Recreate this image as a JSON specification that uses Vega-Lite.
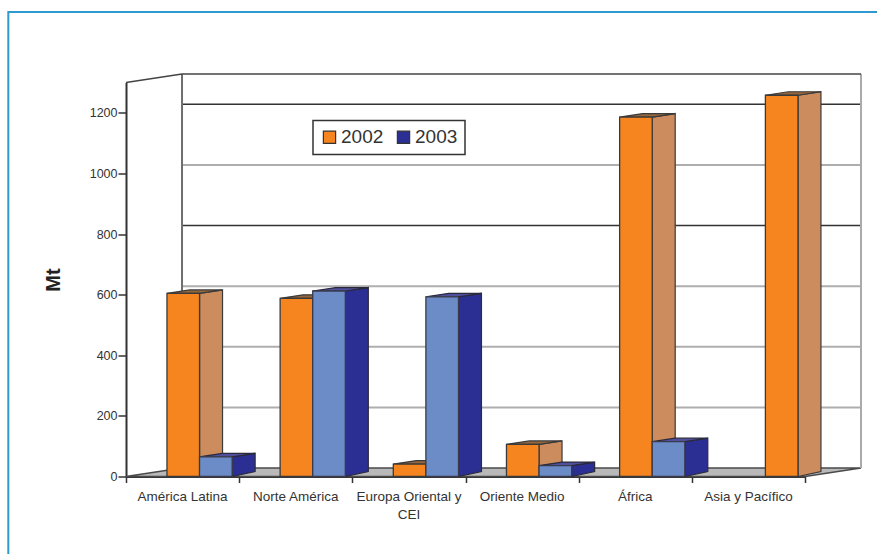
{
  "$schema": "https://vega.github.io/schema/vega-lite/v6.json",
  "width": 679,
  "height": 394,
  "autosize": "none",
  "padding": {"left": 126, "top": 82.5, "right": 72, "bottom": 77.5},
  "background": "white",
  "config": {"view": {"stroke": null}, "font": "Liberation Sans", "legend": {"strokeWidth": 1.5}},
  "resolve": {"axis": {"x": "independent", "y": "independent"}},
  "datasets": {
    "suelo": [
      {"alto": 0, "desde": 0, "hasta": 6},
      {"alto": 28, "desde": 0.495, "hasta": 6.495}
    ],
    "rejilla": [{"mt": 200}, {"mt": 400}, {"mt": 600}, {"mt": 800}, {"mt": 1000}, {"mt": 1200}],
    "regiones": [
      {"region": "América Latina"},
      {"region": "Norte América"},
      {"region": "Europa Oriental y CEI"},
      {"region": "Oriente Medio"},
      {"region": "África"},
      {"region": "Asia y Pacífico"}
    ]
  },
  "data": {
    "values": [
      {"region": "América Latina", "anio": "2002", "mt": 604},
      {"region": "América Latina", "anio": "2003", "mt": 65},
      {"region": "Norte América", "anio": "2002", "mt": 588},
      {"region": "Norte América", "anio": "2003", "mt": 612},
      {"region": "Europa Oriental y CEI", "anio": "2002", "mt": 41},
      {"region": "Europa Oriental y CEI", "anio": "2003", "mt": 593},
      {"region": "Oriente Medio", "anio": "2002", "mt": 106},
      {"region": "Oriente Medio", "anio": "2003", "mt": 36},
      {"region": "África", "anio": "2002", "mt": 1186},
      {"region": "África", "anio": "2003", "mt": 115},
      {"region": "Asia y Pacífico", "anio": "2002", "mt": 1258}
    ]
  },
  "transform": [
    {"calculate": "indexof(['América Latina','Norte América','Europa Oriental y CEI','Oriente Medio','África','Asia y Pacífico'], datum.region)", "as": "grupo"},
    {"calculate": "datum.region === 'Asia y Pacífico' || datum.anio === '2003' ? 1 : 0", "as": "hueco"},
    {"calculate": "datum.grupo + 0.362 + datum.hueco * 0.288", "as": "izq"},
    {"calculate": "datum.izq + 0.288", "as": "der"}
  ],
  "layer": [
    {
      "description": "Marco azul de la figura",
      "data": {"values": [{}]},
      "mark": {"type": "rect", "fill": null, "stroke": "#2f9ad0", "strokeWidth": 2},
      "encoding": {
        "x": {"datum": -1.04, "type": "quantitative", "scale": {"domain": [0, 6], "nice": false, "zero": false}, "axis": null},
        "x2": {"datum": 7},
        "y": {"datum": 1533, "type": "quantitative", "scale": {"domain": [0, 1300], "nice": false}, "axis": null},
        "y2": {"datum": -500}
      }
    },
    {
      "description": "Suelo del grafico en perspectiva",
      "data": {"name": "suelo"},
      "mark": {"type": "area", "orient": "horizontal", "fill": "#b9b9b9", "stroke": "#4a4a4a", "strokeWidth": 1.6},
      "encoding": {
        "y": {"field": "alto", "type": "quantitative", "stack": null, "scale": {"domain": [0, 1300], "nice": false}, "axis": null},
        "x": {"field": "desde", "type": "quantitative", "stack": null, "scale": {"domain": [0, 6], "nice": false, "zero": false}, "axis": null},
        "x2": {"field": "hasta"}
      }
    },
    {
      "description": "Lineas de rejilla de la pared del fondo",
      "data": {"name": "rejilla"},
      "transform": [{"calculate": "datum.mt + 28", "as": "alto"}],
      "mark": {"type": "rule"},
      "encoding": {
        "y": {"field": "alto", "type": "quantitative", "scale": {"domain": [0, 1300], "nice": false}, "axis": null},
        "x": {"datum": 0.495, "type": "quantitative", "scale": {"domain": [0, 6], "nice": false, "zero": false}, "axis": null},
        "x2": {"datum": 6.495},
        "color": {"condition": {"test": "datum.mt === 1200 || datum.mt === 800", "value": "#333333"}, "value": "#aeaeae"},
        "strokeWidth": {"condition": {"test": "datum.mt === 1200 || datum.mt === 800", "value": 1.5}, "value": 2}
      }
    },
    {
      "description": "Pared derecha",
      "data": {"values": [{}]},
      "mark": {"type": "rule", "stroke": "#aaaaaa", "strokeWidth": 2},
      "encoding": {
        "x": {"datum": 6.495, "type": "quantitative", "scale": {"domain": [0, 6], "nice": false, "zero": false}, "axis": null},
        "y": {"datum": 28, "type": "quantitative", "scale": {"domain": [0, 1300], "nice": false}, "axis": null},
        "y2": {"datum": 1328}
      }
    },
    {
      "description": "Arista vertical izquierda de la pared del fondo",
      "data": {"values": [{}]},
      "mark": {"type": "rule", "stroke": "#6e6e6e", "strokeWidth": 2},
      "encoding": {
        "x": {"datum": 0.495, "type": "quantitative", "scale": {"domain": [0, 6], "nice": false, "zero": false}, "axis": null},
        "y": {"datum": 28, "type": "quantitative", "scale": {"domain": [0, 1300], "nice": false}, "axis": null},
        "y2": {"datum": 1328}
      }
    },
    {
      "description": "Arista superior de la pared del fondo",
      "data": {"values": [{}]},
      "mark": {"type": "rule", "stroke": "#444444", "strokeWidth": 1.5},
      "encoding": {
        "x": {"datum": 0.495, "type": "quantitative", "scale": {"domain": [0, 6], "nice": false, "zero": false}, "axis": null},
        "x2": {"datum": 6.495},
        "y": {"datum": 1328, "type": "quantitative", "scale": {"domain": [0, 1300], "nice": false}, "axis": null}
      }
    },
    {
      "description": "Diagonal superior de la pared izquierda",
      "data": {"values": [{}]},
      "mark": {"type": "rule", "stroke": "#444444", "strokeWidth": 1.5},
      "encoding": {
        "x": {"datum": 0, "type": "quantitative", "scale": {"domain": [0, 6], "nice": false, "zero": false}, "axis": null},
        "x2": {"datum": 0.495},
        "y": {"datum": 1300, "type": "quantitative", "scale": {"domain": [0, 1300], "nice": false}, "axis": null},
        "y2": {"datum": 1328}
      }
    },
    {
      "description": "Cara lateral 2002",
      "transform": [
        {"filter": "datum.anio === '2002'"},
        {"calculate": "[0, 1]", "as": "t"},
        {"flatten": ["t"]},
        {"calculate": "datum.der + datum.t * 0.203", "as": "fx"},
        {"calculate": "datum.mt + datum.t * 11.5", "as": "fy"},
        {"calculate": "datum.t * 16.5", "as": "fy2"}
      ],
      "mark": {"type": "area", "orient": "vertical", "fill": "#cd8c5d", "stroke": "#3a3a3a", "strokeWidth": 1.2},
      "encoding": {
        "x": {"field": "fx", "type": "quantitative", "scale": {"domain": [0, 6], "nice": false, "zero": false}, "axis": null},
        "y": {"field": "fy", "type": "quantitative", "stack": null, "scale": {"domain": [0, 1300], "nice": false}, "axis": null},
        "y2": {"field": "fy2"},
        "detail": {"field": "region"}
      }
    },
    {
      "description": "Cara superior 2002",
      "transform": [
        {"filter": "datum.anio === '2002'"},
        {"calculate": "[0, 1]", "as": "t"},
        {"flatten": ["t"]},
        {"calculate": "datum.izq + datum.t * 0.203", "as": "fx"},
        {"calculate": "datum.der + datum.t * 0.203", "as": "fx2"},
        {"calculate": "datum.mt + datum.t * 11.5", "as": "fy"}
      ],
      "mark": {"type": "area", "orient": "horizontal", "fill": "#93663c", "stroke": "#3a3a3a", "strokeWidth": 1.2},
      "encoding": {
        "y": {"field": "fy", "type": "quantitative", "stack": null, "scale": {"domain": [0, 1300], "nice": false}, "axis": null},
        "x": {"field": "fx", "type": "quantitative", "stack": null, "scale": {"domain": [0, 6], "nice": false, "zero": false}, "axis": null},
        "x2": {"field": "fx2"},
        "detail": {"field": "region"}
      }
    },
    {
      "description": "Cara frontal 2002",
      "transform": [{"filter": "datum.anio === '2002'"}],
      "mark": {"type": "rect", "fill": "#f6851f", "stroke": "#3a3a3a", "strokeWidth": 1.3},
      "encoding": {
        "x": {"field": "izq", "type": "quantitative", "scale": {"domain": [0, 6], "nice": false, "zero": false}, "axis": null},
        "x2": {"field": "der"},
        "y": {"field": "mt", "type": "quantitative", "scale": {"domain": [0, 1300], "nice": false}, "axis": null},
        "y2": {"datum": 0}
      }
    },
    {
      "description": "Cara lateral 2003",
      "transform": [
        {"filter": "datum.anio === '2003'"},
        {"calculate": "[0, 1]", "as": "t"},
        {"flatten": ["t"]},
        {"calculate": "datum.der + datum.t * 0.203", "as": "fx"},
        {"calculate": "datum.mt + datum.t * 11.5", "as": "fy"},
        {"calculate": "datum.t * 16.5", "as": "fy2"}
      ],
      "mark": {"type": "area", "orient": "vertical", "fill": "#2b2f93", "stroke": "#2a2a3a", "strokeWidth": 1.2},
      "encoding": {
        "x": {"field": "fx", "type": "quantitative", "scale": {"domain": [0, 6], "nice": false, "zero": false}, "axis": null},
        "y": {"field": "fy", "type": "quantitative", "stack": null, "scale": {"domain": [0, 1300], "nice": false}, "axis": null},
        "y2": {"field": "fy2"},
        "detail": {"field": "region"}
      }
    },
    {
      "description": "Cara superior 2003",
      "transform": [
        {"filter": "datum.anio === '2003'"},
        {"calculate": "[0, 1]", "as": "t"},
        {"flatten": ["t"]},
        {"calculate": "datum.izq + datum.t * 0.203", "as": "fx"},
        {"calculate": "datum.der + datum.t * 0.203", "as": "fx2"},
        {"calculate": "datum.mt + datum.t * 11.5", "as": "fy"}
      ],
      "mark": {"type": "area", "orient": "horizontal", "fill": "#50509f", "stroke": "#2a2a3a", "strokeWidth": 1.2},
      "encoding": {
        "y": {"field": "fy", "type": "quantitative", "stack": null, "scale": {"domain": [0, 1300], "nice": false}, "axis": null},
        "x": {"field": "fx", "type": "quantitative", "stack": null, "scale": {"domain": [0, 6], "nice": false, "zero": false}, "axis": null},
        "x2": {"field": "fx2"},
        "detail": {"field": "region"}
      }
    },
    {
      "description": "Cara frontal 2003 y ejes",
      "transform": [{"filter": "datum.anio === '2003'"}],
      "mark": {"type": "rect", "fill": "#6c8cc8", "stroke": "#3a3a4a", "strokeWidth": 1.3},
      "encoding": {
        "x": {
          "field": "izq", "type": "quantitative", "title": null,
          "scale": {"domain": [0, 6], "nice": false, "zero": false},
          "axis": {"values": [0, 1, 2, 3, 4, 5, 6], "labels": false, "grid": false, "tickSize": 6, "tickWidth": 1.5, "tickColor": "#333333", "domainColor": "#333333", "domainWidth": 2}
        },
        "x2": {"field": "der"},
        "y": {
          "field": "mt", "type": "quantitative", "title": "Mt",
          "scale": {"domain": [0, 1300], "nice": false},
          "axis": {"values": [0, 200, 400, 600, 800, 1000, 1200], "format": "d", "grid": false, "tickSize": 8, "tickWidth": 1.5, "tickColor": "#333333", "domainColor": "#333333", "domainWidth": 2, "labelFontSize": 12.5, "labelColor": "#333333", "labelPadding": 1, "labelFont": "Liberation Sans", "titleFont": "Liberation Sans", "titleFontSize": 20, "titleFontWeight": "bold", "titleColor": "#222222", "titleX": -63, "titleY": 197}
        },
        "y2": {"datum": 0}
      }
    },
    {
      "description": "Nombres de las regiones bajo el eje",
      "data": {"name": "regiones"},
      "transform": [
        {"calculate": "indexof(['América Latina','Norte América','Europa Oriental y CEI','Oriente Medio','África','Asia y Pacífico'], datum.region) + 0.5", "as": "centro"},
        {"calculate": "replace(datum.region, ' CEI', '\\nCEI')", "as": "rotulo"}
      ],
      "mark": {"type": "text", "lineBreak": "\n", "lineHeight": 18, "font": "Liberation Sans", "fontSize": 13.5, "fill": "#333333", "align": "center", "baseline": "top"},
      "encoding": {
        "x": {"field": "centro", "type": "quantitative", "scale": {"domain": [0, 6], "nice": false, "zero": false}, "axis": null},
        "y": {"datum": -43, "type": "quantitative", "scale": {"domain": [0, 1300], "nice": false}, "axis": null},
        "text": {"field": "rotulo"}
      }
    },
    {
      "description": "Capa sin marcas que aporta la leyenda de años",
      "transform": [{"filter": "false"}],
      "mark": {"type": "point", "filled": true, "shape": "square"},
      "encoding": {
        "x": {"field": "izq", "type": "quantitative", "scale": {"domain": [0, 6], "nice": false, "zero": false}, "axis": null},
        "y": {"field": "mt", "type": "quantitative", "scale": {"domain": [0, 1300], "nice": false}, "axis": null},
        "color": {
          "field": "anio", "type": "nominal", "title": null,
          "scale": {"domain": ["2002", "2003"], "range": ["#f6851f", "#2b2f93"]},
          "legend": {
            "orient": "none", "legendX": 187, "legendY": 38, "direction": "horizontal", "columns": 2,
            "symbolType": "square", "symbolSize": 150, "symbolStrokeColor": "#333333", "symbolStrokeWidth": 1.2, "symbolOpacity": 1,
            "labelFont": "Liberation Sans", "labelFontSize": 19, "labelColor": "#333333", "labelOffset": 2,
            "columnPadding": 10, "padding": 7, "fillColor": "white", "strokeColor": "#333333"
          }
        }
      }
    }
  ]
}
